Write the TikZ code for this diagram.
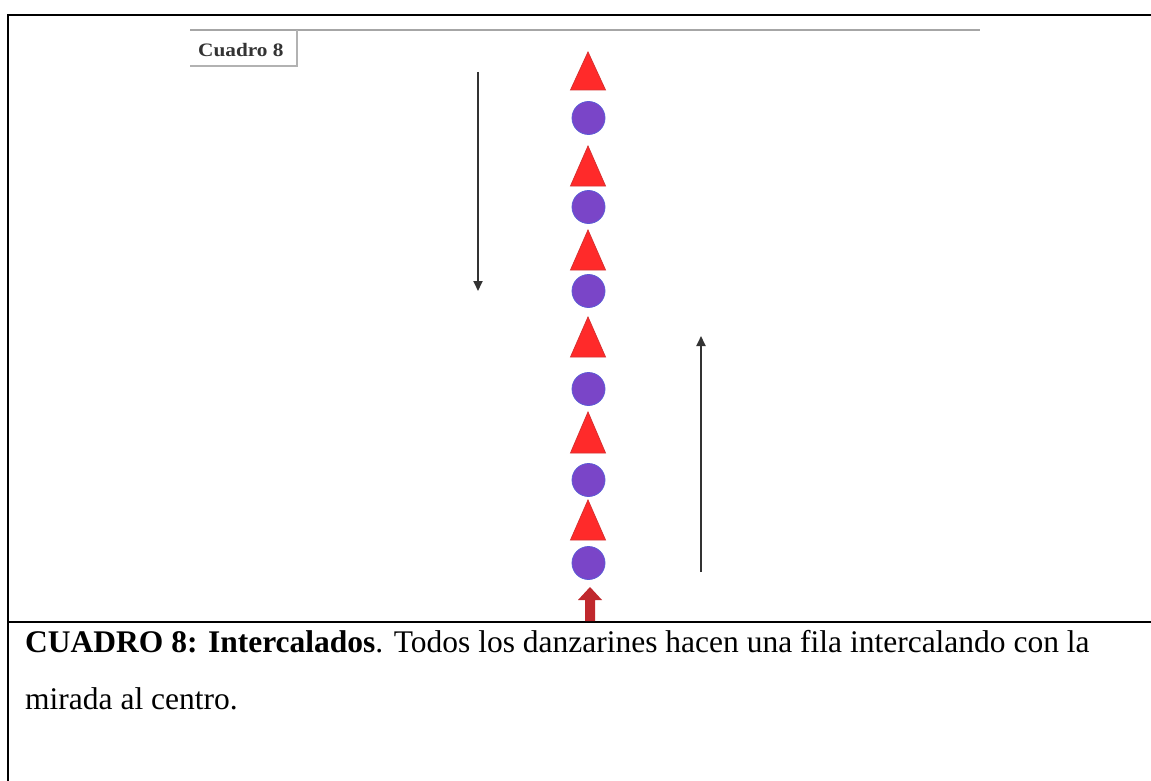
\documentclass[tikz,border=0pt]{standalone}
\usepackage{fontspec}
\setmainfont{Liberation Serif}
\usetikzlibrary{arrows.meta}
\definecolor{tri}{HTML}{FF2A2A}
\definecolor{triedge}{HTML}{D83030}
\definecolor{dot}{HTML}{7A45C8}
\definecolor{dotedge}{HTML}{5C5AD6}
\definecolor{redarrow}{HTML}{C0282D}
\definecolor{arrowgrey}{HTML}{333333}
\tikzset{
  frame/.style={line width=2.4pt, black},
  dancer tri/.style={fill=tri, draw=triedge, line width=0.8pt, line join=miter},
  dancer dot/.style={circle, fill=dot, draw=dotedge, line width=0.8pt, minimum size=33pt, inner sep=0pt},
  path arrow/.style={arrowgrey, line width=1.8pt, -{Triangle[length=10pt,width=9pt]}},
  caption/.style={anchor=base west, inner sep=0pt, font=\fontsize{31.5}{36}\selectfont},
}
\begin{document}
\begin{tikzpicture}[x=1pt,y=-1pt]
\useasboundingbox (0,0) rectangle (1151,781);
\fill[white] (0,0) rectangle (1151,781);
% frame
\draw[frame] (1151,15) -- (8,15) -- (8,781);
\draw[frame] (8,622) -- (1151,622);
% Cuadro 8 label box
\draw[gray!70, line width=1.2pt] (190,30) -- (980,30);
\draw[gray!60, line width=1.2pt] (297,30) -- (297,66) -- (190,66);
\node[anchor=base west, inner sep=0pt, font=\fontsize{19}{22}\selectfont\bfseries, text=black!80] (label) at (198,57) {\scalebox{1.12}[1]{Cuadro 8}};
% dancers
\foreach \t/\b [count=\i] in {52/90,146/186,230/270,317/357,412/453,500/540}{
  \fill[dancer tri] (588,\t) coordinate (t\i) -- (605.5,\b) -- (570.5,\b) -- cycle;
}
\foreach \y [count=\i] in {118,207,291,389,480,563}{
  \node[dancer dot] (c\i) at (588.5,\y) {};
}
% movement arrows
\coordinate (la) at (478,72);
\coordinate (lb) at (478,291);
\draw[path arrow] (la) -- (lb);
\coordinate (ra) at (701,572);
\coordinate (rb) at (701,336);
\draw[path arrow] (ra) -- (rb);
% red entry arrow
\coordinate (entry) at (590,587);
\fill[redarrow] (entry) -- (602,600) -- (595,600) -- (595,621) -- (585,621) -- (585,600) -- (578,600) -- cycle;
% caption
\node[caption] (cap1) at (25,652) {\textbf{CUADRO 8: Intercalados}. Todos los danzarines hacen una fila intercalando con la};
\node[caption] (cap2) at (25,709) {mirada al centro.};
\end{tikzpicture}
\end{document}
